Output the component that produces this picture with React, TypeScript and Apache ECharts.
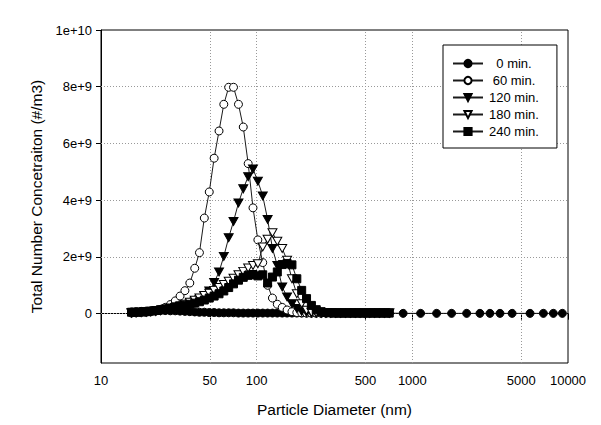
import React, { useEffect, useRef } from "react";
import * as echarts from "echarts";

// Particle diameters (nm) of the SMPS channels
const diameters = [
  15.7, 16.8, 18.1, 19.5, 20.9, 22.5, 24.1, 25.9, 27.9, 30.0,
  32.2, 34.6, 37.2, 40.0, 42.9, 46.1, 49.6, 53.3, 57.3, 61.5,
  66.1, 71.0, 76.4, 82.0, 88.2, 94.7, 101.8, 109.4, 117.6, 126.3,
  135.7, 145.9, 156.8, 168.5, 181.1, 194.6, 209.1, 224.7, 241.4, 259.5,
  278.8, 299.6, 322.0, 346.0, 371.8, 399.5, 429.4, 461.4, 495.8, 532.8,
  572.5, 615.3, 661.2, 710.5,
];

// Concentrations in units of 1e9 #/m3
const conc0 = [
  0.06, 0.07, 0.08, 0.09, 0.1, 0.1, 0.11, 0.11, 0.1, 0.1,
  0.09, 0.08, 0.07, 0.06, 0.05, 0.05, 0.04, 0.04, 0.03, 0.03,
  0.03, 0.03, 0.02, 0.02, 0.02, 0.02, 0.02, 0.02, 0.02, 0.02,
  0.02, 0.02, 0.02, 0.02, 0.02, 0.02, 0.02, 0.02, 0.02, 0.02,
  0.02, 0.02, 0.02, 0.02, 0.02, 0.02, 0.02, 0.02, 0.02, 0.02,
  0.02, 0.02, 0.02, 0.02,
];
const conc60 = [
  0.02, 0.03, 0.04, 0.05, 0.07, 0.1, 0.15, 0.22, 0.32, 0.45,
  0.62, 0.81, 1.08, 1.6, 2.15, 3.37, 4.29, 5.48, 6.44, 7.38,
  7.98, 7.98, 7.38, 6.58, 5.29, 3.73, 2.6, 1.8, 1.0, 0.55,
  0.33, 0.22, 0.13, 0.07, 0.04, 0.03, 0.02, 0.02, 0.02, 0.02,
  0.02, 0.02, 0.02, 0.02, 0.02, 0.02, 0.02, 0.02, 0.02, 0.02,
  0.02, 0.02, 0.02, 0.02,
];
const conc120 = [
  0.02, 0.03, 0.04, 0.05, 0.06, 0.08, 0.1, 0.13, 0.16, 0.2,
  0.25, 0.3, 0.35, 0.42, 0.5, 0.62, 0.8, 1.1, 1.47, 2.02,
  2.68, 3.25, 3.9, 4.4, 4.83, 5.1, 4.67, 4.15, 3.32, 2.3,
  1.7, 0.94, 0.59, 0.35, 0.18, 0.08, 0.04, 0.02, 0.02, 0.02,
  0.02, 0.02, 0.02, 0.02, 0.02, 0.02, 0.02, 0.02, 0.02, 0.02,
  0.02, 0.02, 0.02, 0.02,
];
const conc180 = [
  0.03, 0.03, 0.04, 0.05, 0.07, 0.09, 0.11, 0.14, 0.18, 0.22,
  0.27, 0.33, 0.4, 0.47, 0.55, 0.64, 0.72, 0.82, 0.92, 1.03,
  1.14, 1.25, 1.37, 1.49, 1.61, 1.7, 1.76, 2.35, 2.62, 2.85,
  2.55, 2.3, 1.88, 1.23, 0.7, 0.35, 0.12, 0.05, 0.03, 0.02,
  0.02, 0.02, 0.02, 0.02, 0.02, 0.02, 0.02, 0.02, 0.02, 0.02,
  0.02, 0.02, 0.02, 0.02,
];
const conc240 = [
  0.05, 0.05, 0.06, 0.07, 0.09, 0.11, 0.14, 0.17, 0.2, 0.24,
  0.27, 0.3, 0.33, 0.37, 0.42, 0.48, 0.55, 0.62, 0.7, 0.8,
  0.92, 1.05, 1.18, 1.28, 1.35, 1.38, 1.33, 1.37, 1.08, 1.29,
  1.47, 1.73, 1.77, 1.72, 1.23, 0.82, 0.53, 0.29, 0.14, 0.07,
  0.04, 0.03, 0.02, 0.02, 0.02, 0.02, 0.02, 0.02, 0.02, 0.02,
  0.02, 0.02, 0.02, 0.02,
];

// Coarse channels measured only for the 0 min. run
const coarseDiameters = [873, 1130, 1432, 1787, 2233, 2718, 3152, 3657, 4375, 5703, 6950, 8054, 9200];
const coarse0 = [0.01, 0.01, 0.01, 0.01, 0.01, 0.01, 0.01, 0.01, 0.01, 0.01, 0.01, 0.01, 0.01];

const seriesNames = ["0 min.", "60 min.", "120 min.", "180 min.", "240 min."];
const yTicks = [0, 2e9, 4e9, 6e9, 8e9, 1e10];
const xTicks = [10, 50, 100, 500, 1000, 5000, 10000];
const xGridLines = [50, 100, 500, 1000, 5000];
const yGridLines = [0, 2e9, 4e9, 6e9, 8e9];

const UNIT = 1e9;
const FONT = "'Liberation Sans', Arial, sans-serif";
const TRI_DOWN = "path://M0,0L10,0L5,9Z";

function pairs(xs: number[], ys: number[]) {
  return xs.map((x, i) => [x, ys[i] * UNIT]);
}

export default function App() {
  const ref = useRef<HTMLDivElement>(null);
  useEffect(() => {
    if (!ref.current) return;
    const chart = echarts.init(ref.current, null, { renderer: "svg" });
    const lineStyle = { color: "#1a1a1a", width: 1 };
    const filled = { color: "#000", borderColor: "#000", borderWidth: 1 };
    const open = { color: "#fff", borderColor: "#000", borderWidth: 1 };
    const specs = [
      { data: pairs(diameters, conc0).concat(pairs(coarseDiameters, coarse0)), symbol: "circle", size: 8, style: filled },
      { data: pairs(diameters, conc60), symbol: "circle", size: 8, style: open },
      { data: pairs(diameters, conc120), symbol: TRI_DOWN, size: [9, 8], style: filled },
      { data: pairs(diameters, conc180), symbol: TRI_DOWN, size: [9, 8], style: open },
      { data: pairs(diameters, conc240), symbol: "rect", size: 8, style: filled },
    ];
    const series: any[] = specs.map((s, i) => ({
      name: seriesNames[i],
      type: "line",
      data: s.data,
      symbol: s.symbol,
      symbolSize: s.size,
      showSymbol: true,
      itemStyle: s.style,
      lineStyle,
      z: 3 + i,
    }));
    series.unshift({
      type: "line",
      data: [],
      z: 1,
      silent: true,
      markLine: {
        silent: true,
        z: 1,
        symbol: "none",
        label: { show: false },
        lineStyle: { type: [1, 2], color: "#999", width: 1 },
        data: [
          ...yGridLines.map((v) => ({ yAxis: v })),
          ...xGridLines.map((v) => ({ xAxis: v })),
        ],
      },
    });

    chart.setOption({
      animation: false,
      backgroundColor: "#fff",
      grid: {
        left: 101,
        right: 33,
        top: 30,
        bottom: 62,
        show: true,
        borderColor: "#000",
        borderWidth: 1,
        backgroundColor: "transparent",
      },
      legend: {
        data: seriesNames,
        orient: "vertical",
        left: 443,
        top: 45,
        padding: [12, 18, 10, 9],
        itemGap: 4,
        itemWidth: 30,
        itemHeight: 9,
        borderColor: "#000",
        borderWidth: 1,
        backgroundColor: "#fff",
        formatter: (name: string) => `{c|${name}}`,
        textStyle: {
          rich: {
            c: { width: 52, align: "center", fontSize: 13, fontFamily: FONT, color: "#000" },
          },
        },
      },
      xAxis: {
        type: "log",
        logBase: 10,
        min: 10,
        max: 10000,
        name: "Particle Diameter (nm)",
        nameLocation: "middle",
        nameGap: 38,
        nameTextStyle: { fontSize: 15.5, fontFamily: FONT, color: "#000" },
        axisLine: { show: true, lineStyle: { color: "#000", width: 1 } },
        axisTick: { show: true, length: 6, customValues: xTicks, lineStyle: { color: "#000" } },
        axisLabel: {
          customValues: xTicks,
          margin: 11,
          fontSize: 13,
          fontFamily: FONT,
          color: "#000",
          formatter: (v: number) => String(Math.round(v)),
        },
        splitLine: { show: false },
        minorTick: { show: false },
      },
      yAxis: {
        type: "value",
        min: -1.74e9,
        max: 1e10,
        name: "Total Number Concetraiton (#/m3)",
        nameLocation: "middle",
        nameGap: 56,
        nameTextStyle: { fontSize: 15.5, fontFamily: FONT, color: "#000" },
        axisLine: { show: true, lineStyle: { color: "#000", width: 1 } },
        axisTick: { show: true, length: 5, customValues: yTicks, lineStyle: { color: "#000" } },
        axisLabel: {
          customValues: yTicks,
          margin: 9,
          fontSize: 13,
          fontFamily: FONT,
          color: "#000",
          formatter: (v: number) => (v === 0 ? "0" : v.toExponential()),
        },
        splitLine: { show: false },
      },
      series,
    });
    return () => chart.dispose();
  }, []);
  return (
    <div
      ref={ref}
      style={{ position: "absolute", left: 0, top: 0, width: 601, height: 425 }}
    />
  );
}
